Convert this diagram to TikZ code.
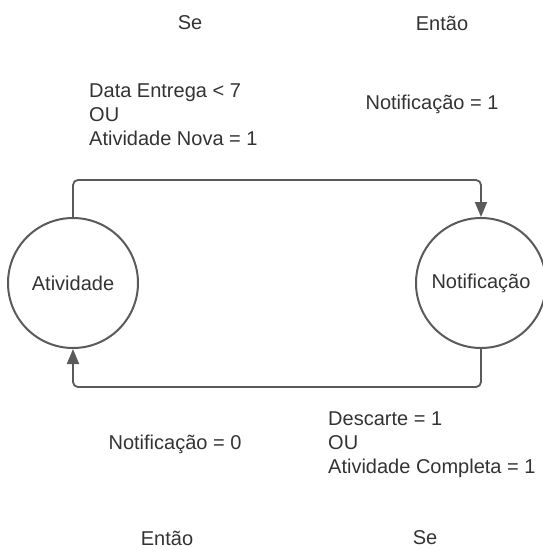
\documentclass[tikz,border=0pt]{standalone}
\usepackage{fontspec}
\setmainfont{Liberation Sans}
\usetikzlibrary{arrows.meta}
\definecolor{linha}{HTML}{5A5A5A}
\definecolor{texto}{HTML}{333333}
\tikzset{
  estado/.style={circle, draw=linha, line width=2pt, minimum size=130pt, inner sep=0pt, text=texto},
  rotulo/.style={text=texto, inner sep=0pt, align=left},
  fluxo/.style={draw=linha, line width=1.8pt, rounded corners=5pt, -{Triangle[length=15pt,width=12pt]}}
}
\begin{document}
\begin{tikzpicture}[x=1pt, y=-1pt, font=\fontsize{20}{24}\selectfont]
\useasboundingbox (0,0) rectangle (542,550);
% Estados
\node[estado] (ativ) at (73,283) {Atividade};
\node[estado] (notif) at (481,283) {Notificação};
% Cabeçalhos
\node[rotulo] (se1) at (190,23) {Se};
\node[rotulo] (entao1) at (442,23) {Então};
\node[rotulo] (entao2) at (167,538) {Então};
\node[rotulo] (se2) at (425,538) {Se};
% Condições e ações
\node[rotulo, anchor=west] (cond1) at (89,115) {Data Entrega < 7\\OU\\Atividade Nova = 1};
\node[rotulo] (acao1) at (432,104) {Notificação = 1};
\node[rotulo] (acao2) at (175,444) {Notificação = 0};
\node[rotulo, anchor=west] (cond2) at (328,445) {Descarte = 1\\OU\\Atividade Completa = 1};
% Transições
\draw[fluxo] (ativ.north) -- ++(0,-37) -| (notif.north);
\draw[fluxo] (notif.south) -- ++(0,38) -| (ativ.south);
\end{tikzpicture}
\end{document}
